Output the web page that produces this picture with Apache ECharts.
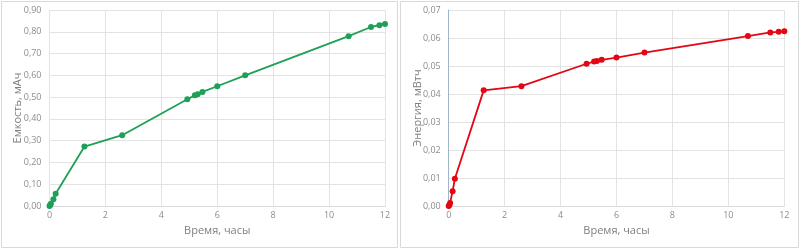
<!DOCTYPE html>
<html><head><meta charset="utf-8">
<script src="https://cdn.jsdelivr.net/npm/echarts@6/dist/echarts.min.js"></script>
<style>html,body{margin:0;padding:0;background:#fff}#c{width:800px;height:250px}</style>
</head><body><div id="c"></div>
<script>
var timeHours = [0, 0.02, 0.05, 0.14, 0.22, 1.25, 2.6, 4.93, 5.2, 5.3, 5.47, 6.0, 7.0, 10.7, 11.5, 11.8, 12.0];
var capacity = [0, 0.003, 0.01, 0.031, 0.056, 0.273, 0.325, 0.49, 0.508, 0.513, 0.524, 0.55, 0.60, 0.78, 0.822, 0.83, 0.836];
var energy = [0, 0.0003, 0.0011, 0.0053, 0.0097, 0.0413, 0.0428, 0.0508, 0.0516, 0.0518, 0.0522, 0.053, 0.0548, 0.0607, 0.062, 0.0622, 0.0624];
var xTitle = 'Время, часы';
var yTitleLeft = 'Емкость, мАч';
var yTitleRight = 'Энергия, мВтч';

function pairs(xs, ys){ return xs.map(function(x,i){ return [x, ys[i]]; }); }
function fmt(v){ return v.toFixed(2).replace('.', ','); }

var labelStyle = {color:'#8c8c8c', fontSize:9, fontFamily:'Open Sans'};
var nameStyle = {color:'#7f7f7f', fontSize:11, fontFamily:'Open Sans'};
var gridLine = {show:true, lineStyle:{color:'#e3e3e3', width:1}};

function xAx(idx){
  return {type:'value', gridIndex:idx, min:0, max:12, interval:2,
    name:xTitle, nameLocation:'middle', nameGap:19, nameMoveOverlap:false, nameTextStyle:nameStyle,
    axisLabel:Object.assign({margin:5}, labelStyle),
    axisTick:{show:false}, axisLine:{show:true, lineStyle:{color:'#d9d9d9'}},
    splitLine:gridLine};
}
function yAx(idx, max, interval, name, axisLineShow, gap){
  return {type:'value', gridIndex:idx, min:0, max:max, interval:interval,
    name:name, nameLocation:'middle', nameGap:gap, nameMoveOverlap:false, nameTextStyle:nameStyle,
    axisLabel:Object.assign({margin:8, formatter:fmt}, labelStyle),
    axisTick:{show:false},
    axisLine:{show:axisLineShow, lineStyle:{color:'#9fb6c8'}},
    splitLine:gridLine};
}

var chart = echarts.init(document.getElementById('c'), null, {renderer:'canvas'});
chart.setOption({
  animation:false,
  backgroundColor:'#ffffff',
  graphic:[
    {type:'rect', shape:{x:1.5, y:1.5, width:396, height:246}, style:{fill:'none', stroke:'#d9d9d9', lineWidth:1}},
    {type:'rect', shape:{x:400.5, y:1.5, width:398, height:246}, style:{fill:'none', stroke:'#d9d9d9', lineWidth:1}}
  ],
  grid:[
    {left:49.5, top:10, width:335.5, height:196},
    {left:448.7, top:10, width:335.6, height:196}
  ],
  xAxis:[xAx(0), xAx(1)],
  yAxis:[yAx(0, 0.9, 0.1, yTitleLeft, false, 26), yAx(1, 0.07, 0.01, yTitleRight, true, 25)],
  series:[
    {type:'line', xAxisIndex:0, yAxisIndex:0, data:pairs(timeHours, capacity),
     symbol:'circle', symbolSize:6, lineStyle:{color:'#1f9f57', width:1.8},
     itemStyle:{color:'#1f9f57'}},
    {type:'line', xAxisIndex:1, yAxisIndex:1, data:pairs(timeHours, energy),
     symbol:'circle', symbolSize:6, lineStyle:{color:'#e30613', width:1.8},
     itemStyle:{color:'#e30613'}}
  ]
});
</script></body></html>
